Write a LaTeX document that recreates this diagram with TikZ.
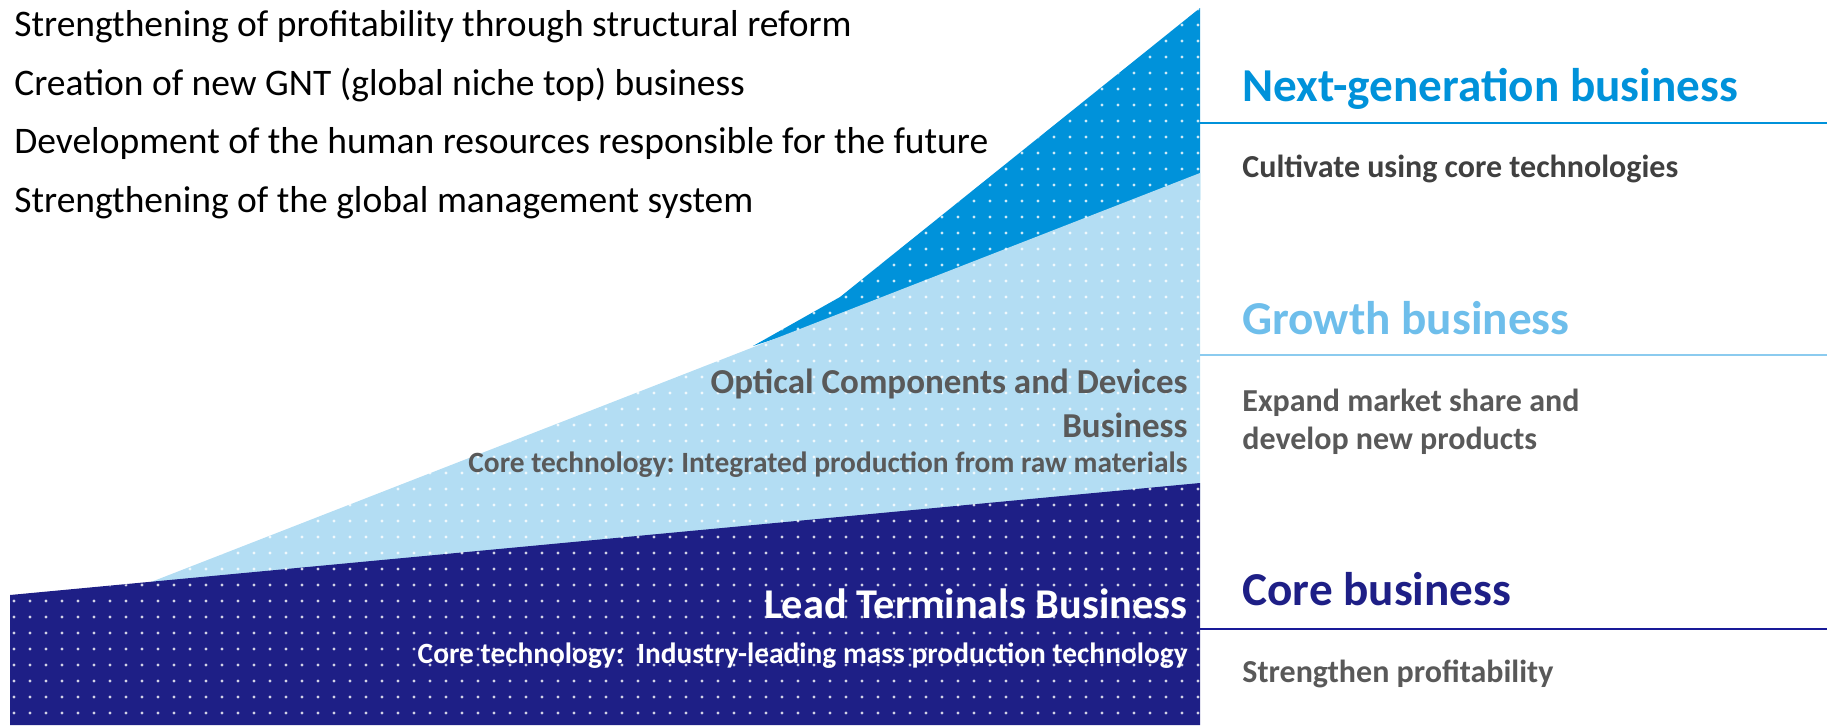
\documentclass[tikz,border=0pt]{standalone}
\usepackage{fontspec}
\setmainfont{Carlito}
\frenchspacing

\definecolor{corenavy}{RGB}{30,31,134}
\definecolor{nextblue}{RGB}{0,146,218}
\definecolor{growthfill}{RGB}{179,221,243}
\definecolor{growthtext}{RGB}{110,190,235}
\definecolor{labelgray}{RGB}{89,89,89}
\definecolor{notedark}{RGB}{64,64,64}

\begin{document}
\begin{tikzpicture}[x=0.5pt,y=-0.5pt,
    goal/.style={anchor=base west,inner sep=0pt,font=\fontsize{18.75}{22}\selectfont},
    head/.style={anchor=base west,inner sep=0pt,font=\bfseries\fontsize{23.6}{28}\selectfont},
    note/.style={anchor=base west,inner sep=0pt,text=labelgray,font=\bfseries\fontsize{16}{19}\selectfont},
    area/.style={anchor=base east,inner sep=0pt,font=\bfseries\fontsize{17.5}{21}\selectfont},
    tech/.style={anchor=base east,inner sep=0pt,font=\bfseries\fontsize{14.7}{17}\selectfont},
    rule/.style={line width=1pt}]
    \useasboundingbox (0,0) rectangle (1827,725);

    % corner points of the three stacked areas
    \coordinate (navyL) at (10,595);
    \coordinate (navyR) at (1200,483);
    \coordinate (tipL) at (151,582);
    \coordinate (lightR) at (1200,173);
    \coordinate (kinkA) at (753,346);
    \coordinate (kinkB) at (840,297);
    \coordinate (peak) at (1200,8);

    \fill[nextblue] (kinkA) -- (kinkB) -- (peak) -- (1200,200) -- cycle;
    \fill[growthfill] (tipL) -- (lightR) -- (1200,500) -- (151,600) -- cycle;
    \fill[corenavy] (navyL) -- (navyR) -- (1200,725) -- (10,725) -- cycle;

    % dot raster over the areas
    \begin{scope}
        \clip (navyL) -- (tipL) -- (kinkA) -- (kinkB) -- (peak) -- (1200,725) -- (10,725) -- cycle;
        \foreach \x in {14,30,...,1198}
            \foreach \y in {9,25,...,725}
                \fill[white,opacity=.8] (\x,\y) circle[radius=0.8pt];
    \end{scope}

    % rules on the right
    \coordinate (nextruleL) at (1200,123);
    \coordinate (nextruleR) at (1827,123);
    \coordinate (growthruleL) at (1200,355);
    \coordinate (growthruleR) at (1827,355);
    \coordinate (coreruleL) at (1200,629);
    \coordinate (coreruleR) at (1827,629);
    \draw[rule,nextblue] (nextruleL) -- (nextruleR);
    \draw[rule,growthtext!80!white] (growthruleL) -- (growthruleR);
    \draw[rule,corenavy!85!blue] (coreruleL) -- (coreruleR);

    % goals
    \node[goal] (goalA) at (14,36) {Strengthening of profitability through structural reform};
    \node[goal] (goalB) at (14,95) {Creation of new GNT (global niche top) business};
    \node[goal] (goalC) at (14,153) {Development of the human resources responsible for the future};
    \node[goal] (goalD) at (14,212) {Strengthening of the global management system};

    % business levels
    \node[head,text=nextblue] (nextHead) at (1242,101) {Next-generation business};
    \node[note,text=notedark] (nextNote) at (1242,177) {Cultivate using core technologies};
    \node[head,text=growthtext] (growthHead) at (1242,334) {Growth business};
    \node[note] (growthNoteA) at (1242,411) {Expand market share and};
    \node[note] (growthNoteB) at (1242,449) {develop new products};
    \node[head,text=corenavy] (coreHead) at (1242,605) {Core business};
    \node[note] (coreNote) at (1242,682) {Strengthen profitability};

    % labels inside the areas
    \node[area,text=labelgray] (opticA) at (1188,393) {Optical Components and Devices};
    \node[area,text=labelgray] (opticB) at (1188,437) {Business};
    \node[tech,text=labelgray] (opticTech) at (1188,472) {Core technology: Integrated production from raw materials};
    \node[area,text=white,font=\bfseries\fontsize{21.2}{25}\selectfont] (leadName) at (1188,618) {Lead Terminals Business};
    \node[tech,text=white] (leadTech) at (1188,663) {Core technology:\ \ Industry-leading mass production technology};
\end{tikzpicture}
\end{document}
